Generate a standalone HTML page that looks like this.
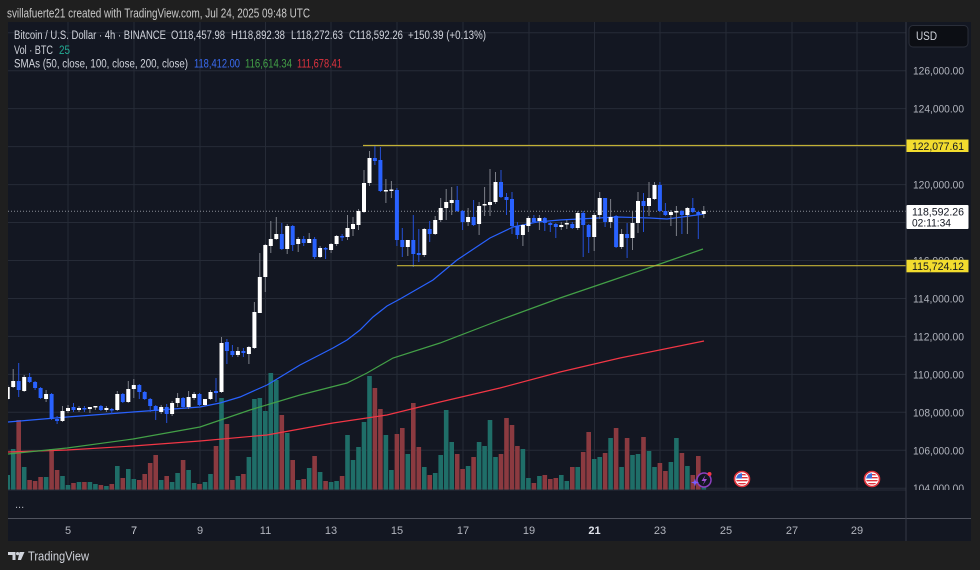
<!DOCTYPE html>
<html><head><meta charset="utf-8"><style>
html,body{margin:0;padding:0;background:#1f1f1f;}
svg{display:block;font-family:"Liberation Sans",sans-serif;}
</style></head><body>
<svg width="980" height="570" viewBox="0 0 980 570" xmlns="http://www.w3.org/2000/svg">
<defs><clipPath id="pc"><rect x="8" y="22" width="898" height="468"/></clipPath>
<clipPath id="ac"><rect x="907" y="22" width="64" height="468"/></clipPath>
<clipPath id="fc1"><circle cx="742" cy="479" r="5.8"/></clipPath>
<clipPath id="fc2"><circle cx="872" cy="479" r="5.8"/></clipPath></defs>
<rect width="980" height="570" fill="#1f1f1f"/>
<text x="7" y="17.6" font-size="12.5" fill="#c9c9c9" textLength="303" lengthAdjust="spacingAndGlyphs">svillafuerte21 created with TradingView.com, Jul 24, 2025 09:48 UTC</text>
<rect x="8" y="22" width="963" height="519" fill="#131722"/>
<!-- grid -->
<g stroke="#262b37" stroke-width="1">
<path d="M8,32.8H906M8,70.7H906M8,108.6H906M8,146.6H906M8,184.6H906M8,222.5H906M8,260.5H906M8,298.5H906M8,336.4H906M8,374.4H906M8,412.3H906M8,450.3H906M8,488.2H906"/>
<path d="M68,22V490M134,22V490M200,22V490M265.5,22V490M331,22V490M397,22V490M463,22V490M529,22V490M594.5,22V490M660,22V490M726,22V490M792,22V490M857,22V490"/>
</g>
<g clip-path="url(#pc)">
<!-- volume -->
<path fill="#1f6e68" d="M5.4,475h4.6V490h-4.6zM10.9,449h4.6V490h-4.6zM21.9,467h4.6V490h-4.6zM43.8,477h4.6V490h-4.6zM60.2,476h4.6V490h-4.6zM65.7,485h4.6V490h-4.6zM76.7,482h4.6V490h-4.6zM87.6,482h4.6V490h-4.6zM93.1,484h4.6V490h-4.6zM104.1,486h4.6V490h-4.6zM115,466h4.6V490h-4.6zM126,469h4.6V490h-4.6zM131.5,479h4.6V490h-4.6zM158.9,480h4.6V490h-4.6zM169.8,482h4.6V490h-4.6zM175.3,473h4.6V490h-4.6zM186.3,470h4.6V490h-4.6zM191.8,483h4.6V490h-4.6zM202.7,482h4.6V490h-4.6zM208.2,474h4.6V490h-4.6zM219.2,398h4.6V490h-4.6zM235.6,476h4.6V490h-4.6zM246.6,457h4.6V490h-4.6zM252.1,399h4.6V490h-4.6zM257.5,398h4.6V490h-4.6zM263,411h4.6V490h-4.6zM268.5,373h4.6V490h-4.6zM274,380h4.6V490h-4.6zM284.9,433h4.6V490h-4.6zM295.9,480h4.6V490h-4.6zM306.9,468h4.6V490h-4.6zM317.8,472h4.6V490h-4.6zM328.8,482h4.6V490h-4.6zM334.3,481h4.6V490h-4.6zM345.2,435h4.6V490h-4.6zM350.7,460h4.6V490h-4.6zM356.2,447h4.6V490h-4.6zM361.7,422h4.6V490h-4.6zM367.2,376h4.6V490h-4.6zM383.6,435h4.6V490h-4.6zM389.1,470h4.6V490h-4.6zM405.5,454h4.6V490h-4.6zM422,467h4.6V490h-4.6zM432.9,473h4.6V490h-4.6zM438.4,455h4.6V490h-4.6zM443.9,410h4.6V490h-4.6zM449.4,442h4.6V490h-4.6zM465.8,466h4.6V490h-4.6zM476.8,442h4.6V490h-4.6zM482.3,446h4.6V490h-4.6zM487.7,420h4.6V490h-4.6zM493.2,457h4.6V490h-4.6zM520.6,449h4.6V490h-4.6zM526.1,478h4.6V490h-4.6zM537.1,476h4.6V490h-4.6zM559,475h4.6V490h-4.6zM564.5,481h4.6V490h-4.6zM575.4,467h4.6V490h-4.6zM591.9,459h4.6V490h-4.6zM597.4,457h4.6V490h-4.6zM608.3,438h4.6V490h-4.6zM619.3,467h4.6V490h-4.6zM630.2,455h4.6V490h-4.6zM635.7,454h4.6V490h-4.6zM646.7,451h4.6V490h-4.6zM652.2,467h4.6V490h-4.6zM668.6,462h4.6V490h-4.6zM674.1,438h4.6V490h-4.6zM685.1,466h4.6V490h-4.6zM701.5,482h4.6V490h-4.6z"/>
<path fill="#8b3a40" d="M16.4,420h4.6V490h-4.6zM27.3,480h4.6V490h-4.6zM32.8,481h4.6V490h-4.6zM38.3,477h4.6V490h-4.6zM49.3,449h4.6V490h-4.6zM54.8,470h4.6V490h-4.6zM71.2,483h4.6V490h-4.6zM82.1,482h4.6V490h-4.6zM98.6,485h4.6V490h-4.6zM109.5,484h4.6V490h-4.6zM120.5,478h4.6V490h-4.6zM137,480h4.6V490h-4.6zM142.4,474h4.6V490h-4.6zM147.9,463h4.6V490h-4.6zM153.4,455h4.6V490h-4.6zM164.4,476h4.6V490h-4.6zM180.8,460h4.6V490h-4.6zM197.2,484h4.6V490h-4.6zM213.7,446h4.6V490h-4.6zM224.6,424h4.6V490h-4.6zM230.1,480h4.6V490h-4.6zM241.1,474h4.6V490h-4.6zM279.5,415h4.6V490h-4.6zM290.4,460h4.6V490h-4.6zM301.4,479h4.6V490h-4.6zM312.3,456h4.6V490h-4.6zM323.3,481h4.6V490h-4.6zM339.8,476h4.6V490h-4.6zM372.6,388h4.6V490h-4.6zM378.1,409h4.6V490h-4.6zM394.6,434h4.6V490h-4.6zM400,428h4.6V490h-4.6zM411,403h4.6V490h-4.6zM416.5,447h4.6V490h-4.6zM427.4,475h4.6V490h-4.6zM454.9,454h4.6V490h-4.6zM460.3,469h4.6V490h-4.6zM471.3,457h4.6V490h-4.6zM498.7,454h4.6V490h-4.6zM504.2,418h4.6V490h-4.6zM509.7,425h4.6V490h-4.6zM515.1,446h4.6V490h-4.6zM531.6,483h4.6V490h-4.6zM542.5,475h4.6V490h-4.6zM548,479h4.6V490h-4.6zM553.5,478h4.6V490h-4.6zM570,467h4.6V490h-4.6zM580.9,452h4.6V490h-4.6zM586.4,432h4.6V490h-4.6zM602.8,453h4.6V490h-4.6zM613.8,428h4.6V490h-4.6zM624.8,438h4.6V490h-4.6zM641.2,437h4.6V490h-4.6zM657.6,463h4.6V490h-4.6zM663.1,471h4.6V490h-4.6zM679.6,453h4.6V490h-4.6zM690.5,475h4.6V490h-4.6zM696,456h4.6V490h-4.6z"/>
<!-- SMAs -->
<g fill="none" stroke-width="1.2">
<path stroke="#f23645" d="M8,452L67,450L133,446L200,441L267,435L333,423L387,415L440,402L500,388L560,372L620,358L704,341"/>
<path stroke="#43a047" d="M8,454L67,448L133,439L200,427L250,410L300,395L347,383L367,373L393,358L440,343L500,320L560,298L613,280L657,265L703,249"/>
<path stroke="#2962ff" d="M8,422L67,417L133,412L200,407L220,403L240,397L267,385L277,379L300,365L333,348L347,340L360,330L373,317L387,306L400,299L433,280L457,260L490,238L513,227L537,222L560,220L617,217L650,218L667,219L697,215L704,214"/>
</g>
<!-- current price line -->
<path d="M8,211.3H906" stroke="#8a8d96" stroke-width="1" stroke-dasharray="1 2"/>
<!-- wicks -->
<path fill="none" stroke="#7c7f88" stroke-width="1" d="M7.7,385V400M13.2,369V388M24.2,375V392M46.1,390V402M62.5,406V422M68,405V413M79,406V412M89.9,407V413M95.4,406V410M106.4,406V412M117.3,391V411M128.3,381V403M133.8,379V398M161.2,405V414M172.1,401V416M177.6,393V407M188.6,391V409M194.1,392V400M205,399V406M210.5,390V400M221.5,337V393M237.9,347V357M248.9,346V364M254.4,302V349M259.8,253V313M265.3,244V292M270.8,221V253M276.3,217V240M287.2,224V254M298.2,237V252M309.2,233V243M320.1,246V258M331.1,243V253M336.6,235V246M347.5,215V240M353,217V236M358.5,209V230M364,170V213M369.5,151V186M385.9,179V203M391.4,181V198M407.8,240V256M424.3,228V257M435.2,216V235M440.7,198V222M446.2,189V220M451.7,187V215M468.1,208V226M479.1,202V235M484.6,187V216M490,169V216M495.5,172V204M522.9,224V246M528.4,216V232M539.4,215V230M561.3,222V230M566.8,220V229M577.7,211V230M594.2,213V251M599.7,192V219M610.6,199V228M621.6,229V249M632.5,211V250M638,192V233M649,182V216M654.5,182V200M670.9,210V226M676.4,206V236M687.4,207V234M703.8,206V218"/>
<path fill="none" stroke="#2450d8" stroke-width="1" d="M18.7,363V397M29.6,373V383M35.1,381V390M40.6,387V399M51.6,393V420M57.1,416V424M73.5,403V412M84.4,406V412M100.9,405V411M111.8,408V414M122.8,393V403M139.3,384V399M144.7,391V400M150.2,398V412M155.7,405V420M166.7,404V423M183.1,397V408M199.5,393V406M216,378V402M226.9,339V364M232.4,345V357M243.4,348V357M281.8,223V250M292.7,225V251M303.7,236V246M314.6,237V259M325.6,247V259M342.1,234V241M374.9,146V165M380.4,147V192M396.9,188V246M402.3,228V257M413.3,215V267M418.8,229V262M429.7,221V242M457.2,186V212M462.6,210V230M473.6,200V226M501,170V198M506.5,193V215M512,192V234M517.4,222V239M533.9,215V223M544.8,217V231M550.3,222V232M555.8,223V238M572.3,222V229M583.2,211V257M588.7,224V253M605.1,198V227M616.1,215V248M627.1,223V258M643.5,193V232M659.9,182V212M665.4,203V216M681.9,210V234M692.8,198V213M698.3,211V239"/>
<!-- bodies -->
<path fill="#ffffff" d="M5.7,387h4v12h-4zM11.2,381h4v6h-4zM22.2,377h4v14h-4zM44.1,394h4v5h-4zM60.5,411h4v10h-4zM66,408h4v3h-4zM77,408h4v2h-4zM87.9,407h4v2h-4zM93.4,406h4v1.5h-4zM104.4,408h4v2h-4zM115.3,394h4v16h-4zM126.3,389h4v13h-4zM131.8,385h4v4h-4zM159.2,407h4v5h-4zM170.1,403h4v11h-4zM175.6,398h4v5h-4zM186.6,397h4v10h-4zM192.1,394h4v4h-4zM203,399h4v6h-4zM208.5,392h4v7h-4zM219.5,343h4v49h-4zM235.9,351h4v4h-4zM246.9,347h4v7h-4zM252.4,312h4v36h-4zM257.8,277h4v36h-4zM263.3,245h4v32h-4zM268.8,239h4v7h-4zM274.3,234h4v5h-4zM285.2,226h4v23h-4zM296.2,239h4v5h-4zM307.2,239h4v4h-4zM318.1,248h4v9h-4zM329.1,244h4v6h-4zM334.6,236h4v8h-4zM345.5,228h4v9h-4zM351,224h4v5h-4zM356.5,211h4v14h-4zM362,183h4v29h-4zM367.5,158h4v25h-4zM383.9,190h4v1.5h-4zM389.4,189.5h4v1.5h-4zM405.8,240h4v7h-4zM422.3,229h4v26h-4zM433.2,220h4v14h-4zM438.7,208h4v12h-4zM444.2,202h4v6h-4zM449.7,200h4v3h-4zM466.1,217h4v5h-4zM477.1,206h4v18h-4zM482.6,204h4v1.5h-4zM488,202h4v3h-4zM493.5,182h4v20h-4zM520.9,225h4v10h-4zM526.4,218h4v8h-4zM537.4,218h4v3h-4zM559.3,225h4v2h-4zM564.8,223h4v1.5h-4zM575.7,213h4v15h-4zM592.2,215h4v22h-4zM597.7,198h4v17h-4zM608.6,217h4v5h-4zM619.6,234h4v13h-4zM630.5,223h4v15h-4zM636,201h4v22h-4zM647,198h4v8h-4zM652.5,185h4v14h-4zM668.9,212h4v3h-4zM674.4,211h4v1.5h-4zM685.4,208h4v7h-4zM701.8,211h4v3h-4z"/>
<path fill="#2962ff" d="M16.7,381h4v9h-4zM27.6,377h4v5h-4zM33.1,382h4v6h-4zM38.6,388h4v10h-4zM49.6,394h4v25h-4zM55.1,419h4v2h-4zM71.5,407h4v3h-4zM82.4,408h4v1.5h-4zM98.9,406h4v4h-4zM109.8,409h4v1.5h-4zM120.8,394h4v8h-4zM137.3,385h4v7h-4zM142.7,392h4v7h-4zM148.2,399h4v7h-4zM153.7,406h4v5h-4zM164.7,407h4v7h-4zM181.1,398h4v9h-4zM197.5,394h4v11h-4zM214,391h4v2h-4zM224.9,342h4v9h-4zM230.4,351h4v4h-4zM241.4,351h4v2h-4zM279.8,234h4v15h-4zM290.7,226h4v19h-4zM301.7,239h4v4h-4zM312.6,239h4v18h-4zM323.6,248h4v1.5h-4zM340.1,236h4v1.5h-4zM372.9,158h4v3h-4zM378.4,160h4v31h-4zM394.9,190h4v50h-4zM400.3,240h4v7h-4zM411.3,240h4v14h-4zM416.8,253h4v2h-4zM427.7,229h4v5h-4zM455.2,200h4v11h-4zM460.6,211h4v11h-4zM471.6,217h4v8h-4zM499,182h4v15h-4zM504.5,197h4v3h-4zM510,199h4v27h-4zM515.4,226h4v9h-4zM531.9,218h4v4h-4zM542.8,218h4v5h-4zM548.3,223h4v2h-4zM553.8,224h4v3h-4zM570.3,224h4v4h-4zM581.2,213h4v12h-4zM586.7,225h4v12h-4zM603.1,198h4v24h-4zM614.1,216h4v31h-4zM625.1,234h4v4h-4zM641.5,201h4v5h-4zM657.9,185h4v26h-4zM663.4,211h4v4h-4zM679.9,211h4v4h-4zM690.8,208h4v4h-4zM696.3,212h4v3h-4z"/>
<!-- horizontal rays -->
<path d="M363,145.5H906" stroke="#c2b136" stroke-width="1.2"/>
<path d="M397,265.7H906" stroke="#c2b136" stroke-width="1.2"/>
</g>
<!-- event icons -->
<circle cx="704" cy="480" r="7" fill="#131722" stroke="#8e3fc0" stroke-width="1.5"/>
<path d="M705.5,475L701.5,481H704.5L702.5,485.5L707,479H704Z" fill="#a24fd6"/>
<circle cx="709.5" cy="474" r="2" fill="#f23645"/>
<path d="M695,478.5L696,481.5L699,482.5L696,483.5L695,486.5L694,483.5L691,482.5L694,481.5Z" fill="#7a5cff"/>
<g>
<circle cx="742" cy="479" r="7.5" fill="#ffffff" stroke="#e0313a" stroke-width="1.6"/>
<g clip-path="url(#fc1)"><rect x="736" y="473" width="12" height="12" fill="#fff"/><path d="M736,474h12v1.4h-12zM736,477h12v1.4h-12zM736,480h12v1.4h-12zM736,483h12v1.4h-12z" fill="#e0313a"/><rect x="736" y="473" width="6" height="5.5" fill="#3c6fd8"/></g>
<circle cx="872" cy="479" r="7.5" fill="#ffffff" stroke="#e0313a" stroke-width="1.6"/>
<g clip-path="url(#fc2)"><rect x="866" y="473" width="12" height="12" fill="#fff"/><path d="M866,474h12v1.4h-12zM866,477h12v1.4h-12zM866,480h12v1.4h-12zM866,483h12v1.4h-12z" fill="#e0313a"/><rect x="866" y="473" width="6" height="5.5" fill="#3c6fd8"/></g>
</g>
<!-- separators -->
<path d="M8,490H906" stroke="#2a2e39" stroke-width="1"/>
<path d="M8,518.5H971" stroke="#50535e" stroke-width="1"/>
<path d="M906,22V541" stroke="#363a45" stroke-width="1"/>
<text x="15" y="508" font-size="11" fill="#b2b5be">...</text>
<!-- legend -->
<g font-size="11.5" fill="#d1d4dc">
<text x="14" y="39" textLength="152" lengthAdjust="spacingAndGlyphs">Bitcoin / U.S. Dollar · 4h · BINANCE</text>
<text x="171" y="39" textLength="54" lengthAdjust="spacingAndGlyphs">O118,457.98</text>
<text x="231" y="39" textLength="54" lengthAdjust="spacingAndGlyphs">H118,892.38</text>
<text x="291" y="39" textLength="52" lengthAdjust="spacingAndGlyphs">L118,272.63</text>
<text x="349" y="39" textLength="54" lengthAdjust="spacingAndGlyphs">C118,592.26</text>
<text x="408" y="39" textLength="78" lengthAdjust="spacingAndGlyphs">+150.39 (+0.13%)</text>
<text x="14" y="54" textLength="39" lengthAdjust="spacingAndGlyphs">Vol · BTC</text>
<text x="14" y="67.5" textLength="174" lengthAdjust="spacingAndGlyphs">SMAs (50, close, 100, close, 200, close)</text>
</g>
<text x="59" y="54" font-size="11.5" fill="#22ab94" textLength="11" lengthAdjust="spacingAndGlyphs">25</text>
<text x="194" y="67.5" font-size="11.5" fill="#3a6cf4" textLength="46" lengthAdjust="spacingAndGlyphs">118,412.00</text>
<text x="245" y="67.5" font-size="11.5" fill="#43a047" textLength="47" lengthAdjust="spacingAndGlyphs">116,614.34</text>
<text x="297" y="67.5" font-size="11.5" fill="#e0333f" textLength="45" lengthAdjust="spacingAndGlyphs">111,678.41</text>
<!-- right axis -->
<rect x="909" y="25.5" width="59" height="21.5" rx="4" fill="#0c0e14" stroke="#2a2e39"/>
<text x="916" y="40" font-size="11.5" fill="#d1d4dc" textLength="21" lengthAdjust="spacingAndGlyphs">USD</text>
<g font-size="11" fill="#b2b5be" text-anchor="end">
<text x="964" y="74.7" textLength="51" lengthAdjust="spacingAndGlyphs">126,000.00</text>
<text x="964" y="112.6" textLength="51" lengthAdjust="spacingAndGlyphs">124,000.00</text>
<text x="964" y="188.6" textLength="51" lengthAdjust="spacingAndGlyphs">120,000.00</text>
<text x="964" y="264.5" textLength="51" lengthAdjust="spacingAndGlyphs">116,000.00</text>
<text x="964" y="302.5" textLength="51" lengthAdjust="spacingAndGlyphs">114,000.00</text>
<text x="964" y="340.4" textLength="51" lengthAdjust="spacingAndGlyphs">112,000.00</text>
<text x="964" y="378.4" textLength="51" lengthAdjust="spacingAndGlyphs">110,000.00</text>
<text x="964" y="416.3" textLength="51" lengthAdjust="spacingAndGlyphs">108,000.00</text>
<text x="964" y="454.3" textLength="51" lengthAdjust="spacingAndGlyphs">106,000.00</text>
<text x="964" y="492" textLength="51" lengthAdjust="spacingAndGlyphs" clip-path="url(#ac)">104,000.00</text>
</g>
<rect x="906.5" y="139.5" width="62" height="12.5" fill="#f2dc2e"/>
<text x="912" y="149.8" font-size="11" fill="#131722" textLength="52" lengthAdjust="spacingAndGlyphs">122,077.61</text>
<rect x="906.5" y="259.8" width="62" height="12.5" fill="#f2dc2e"/>
<text x="912" y="270" font-size="11" fill="#131722" textLength="52" lengthAdjust="spacingAndGlyphs">115,724.12</text>
<rect x="906.5" y="205" width="62" height="24" rx="1" fill="#ffffff"/>
<text x="912" y="215.5" font-size="11" fill="#131722" textLength="52" lengthAdjust="spacingAndGlyphs">118,592.26</text>
<text x="912" y="226.5" font-size="11" fill="#131722" textLength="39" lengthAdjust="spacingAndGlyphs">02:11:34</text>
<!-- time axis -->
<g font-size="11" fill="#b2b5be" text-anchor="middle">
<text x="68" y="534">5</text>
<text x="134" y="534" fill="#d1d4dc">7</text>
<text x="200" y="534">9</text>
<text x="265.5" y="534">11</text>
<text x="331" y="534">13</text>
<text x="397" y="534">15</text>
<text x="463" y="534">17</text>
<text x="529" y="534">19</text>
<text x="594.5" y="534" fill="#e0e3eb" font-weight="bold">21</text>
<text x="660" y="534">23</text>
<text x="726" y="534">25</text>
<text x="792" y="534">27</text>
<text x="857" y="534">29</text>
</g>
<rect x="0" y="541" width="980" height="29" fill="#1f1f1f"/>
<!-- logo -->
<path d="M8,552H15.5V560H12.5V555H8Z" fill="#d1d4dc"/>
<circle cx="17.6" cy="553.6" r="1.6" fill="#d1d4dc"/>
<path d="M19.5,552H24.5L21,560H17.8Z" fill="#d1d4dc"/>
<text x="28" y="560.5" font-size="13" fill="#d1d4dc" textLength="61" lengthAdjust="spacingAndGlyphs">TradingView</text>
</svg>
</body></html>
